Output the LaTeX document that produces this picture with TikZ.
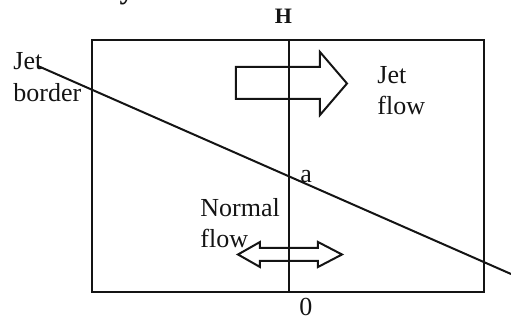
\documentclass[tikz,border=0pt]{standalone}
\usepackage{fontspec}
\setmainfont{Liberation Serif}
\usetikzlibrary{positioning}
\definecolor{ink}{RGB}{20,20,20}
\tikzset{
  frame/.style={draw=ink, line width=1.1pt},
  border/.style={draw=ink, line width=1pt},
  fatarrow/.style={draw=ink, line width=1pt, line join=miter},
  lbl/.style={font=\fontsize{13}{15.5}\selectfont, inner sep=0pt, align=left, text=ink},
  axlbl/.style={font=\fontsize{12}{14}\selectfont, inner sep=0pt, text=ink}
}

\begin{document}
\begin{tikzpicture}[x=0.5pt, y=-0.5pt]
    \useasboundingbox (0,0) rectangle (511,320);
    % heading, cut off by the top edge
    \begin{scope}
      \clip (0,0) rectangle (511,320);
      \node[lbl, font=\bfseries\fontsize{15}{18}\selectfont, anchor=base east] (heading) at (135,-1) {boundary};
    \end{scope}

    \node[frame, minimum width=196pt, minimum height=126pt, inner sep=0pt] (box) at (288,166) {};
    \coordinate (mtop) at (289,40);
    \coordinate (mbot) at (289,292);
    \draw[frame] (mtop) -- (mbot);
    \node[axlbl, font=\bfseries\fontsize{11}{13}\selectfont, anchor=base] (hlab) at (283.5,24) {H};
    \node[axlbl, font=\fontsize{13}{15}\selectfont, anchor=base] (zero) at (306,316) {0};

    % jet border
    \coordinate (bstart) at (38,66);
    \coordinate (bend) at (511,274);
    \draw[border] (bstart) -- (bend);
    \node[lbl, anchor=base west] (alab) at (300,183) {a};

    % flow arrows
    \draw[fatarrow] (236,67) -- (320,67) -- (320,52) -- (347,83.5) -- (320,115)
      -- (320,99) -- (236,99) -- cycle;
    \draw[fatarrow] (238,254.5) -- (260,242) -- (260,248) -- (318,248) -- (318,242)
      -- (342,254.5) -- (318,267) -- (318,261) -- (260,261) -- (260,267) -- cycle;

    \node[lbl, anchor=base west] (border) at (13,102) {Jet\\[0.5pt]border};
    \node[lbl, anchor=base west] (jetflow) at (377,115) {Jet\\flow};
    \node[lbl, anchor=base west] (normal) at (200,248) {Normal\\flow};
\end{tikzpicture}
\end{document}
